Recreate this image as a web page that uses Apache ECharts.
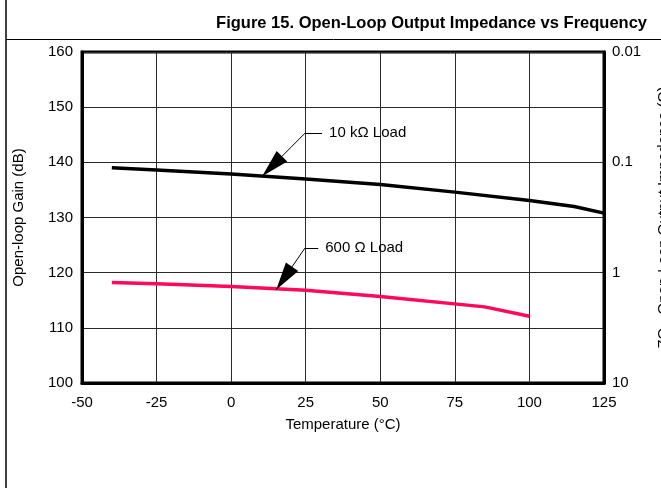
<!DOCTYPE html>
<html>
<head>
<meta charset="utf-8">
<script src="https://cdn.jsdelivr.net/npm/echarts@6/dist/echarts.min.js"></script>
<style>
  html, body { margin: 0; padding: 0; background: #fff; }
  #chart { width: 661px; height: 488px; }
</style>
</head>
<body>
<div id="chart"></div>
<script>
// temperature (°C) / open-loop gain (dB)
const load10kTemp = [-40, -25, 0, 25, 50, 75, 100, 115, 125];
const load10kGain = [139.0, 138.6, 137.9, 137.0, 136.0, 134.6, 133.1, 132.0, 130.8];
const load600Temp = [-40, -25, 0, 25, 50, 85, 100];
const load600Gain = [118.2, 118.0, 117.5, 116.8, 115.7, 113.8, 112.1];

const xTicks = [-50, -25, 0, 25, 50, 75, 100, 125];
const yTicks = [100, 110, 120, 130, 140, 150, 160];
const rightTicks = [0.01, 0.1, 1, 10];

// callout leaders (data coords): elbow, end of short horizontal, arrow tip
const call10k = { elbow: [24.8, 145.3], text: [30.5, 145.3], tip: [10.4, 137.5], label: '10 kΩ Load' };
const call600 = { elbow: [24.8, 124.5], text: [29.2, 124.5], tip: [15.1, 116.9], label: '600 Ω Load' };

const font = '"Liberation Sans", Arial, Helvetica, sans-serif';

function pairs(xs, ys) {
  return xs.map(function (x, i) { return [x, ys[i]]; });
}

function callout(c) {
  return {
    silent: true,
    animation: false,
    data: [
      [
        { coord: c.elbow, symbol: 'none' },
        {
          coord: c.text, symbol: 'none',
          label: { show: true, position: 'end', formatter: c.label, distance: 7, color: '#000', fontSize: 15, fontFamily: font }
        }
      ],
      [
        { coord: c.elbow, symbol: 'none' },
        { coord: c.tip, symbol: 'triangle', symbolSize: [15, 28], symbolOffset: [0, 14] }
      ]
    ],
    lineStyle: { color: '#000', width: 1, type: 'solid' },
    itemStyle: { color: '#000' },
    label: { show: false },
    emphasis: { disabled: true }
  };
}

const chart = echarts.init(document.getElementById('chart'), null, { renderer: 'canvas' });

chart.setOption({
  animation: false,
  backgroundColor: '#fff',
  textStyle: { fontFamily: font, color: '#000' },
  title: {
    text: 'Figure 15. Open-Loop Output Impedance vs Frequency',
    right: 9,
    top: 10,
    textStyle: { fontSize: 16.5, fontWeight: 'bold', color: '#000', fontFamily: font }
  },
  graphic: [
    { type: 'line', shape: { x1: 6, y1: 0, x2: 6, y2: 488 }, style: { stroke: '#000', lineWidth: 1.5 } },
    { type: 'line', shape: { x1: 6, y1: 39.5, x2: 661, y2: 39.5 }, style: { stroke: '#000', lineWidth: 1 } }
  ],
  grid: {
    left: 82, right: 57, top: 52, bottom: 105,
    outerBoundsMode: 'none',
    containLabel: false,
    show: true, borderColor: '#000', borderWidth: 3, backgroundColor: 'transparent'
  },
  xAxis: {
    type: 'value',
    min: xTicks[0], max: xTicks[xTicks.length - 1], interval: 25,
    name: 'Temperature (°C)',
    nameLocation: 'middle', nameGap: 34,
    nameTextStyle: { fontSize: 15, color: '#000', fontFamily: font },
    axisLine: { show: true, onZero: false, lineStyle: { color: '#000', width: 3 } },
    axisTick: { show: false },
    axisLabel: { fontSize: 15, color: '#000', margin: 12, fontFamily: font },
    splitLine: { show: true, lineStyle: { color: '#2a2a2a', width: 1 } }
  },
  yAxis: [
    {
      type: 'value',
      min: yTicks[0], max: yTicks[yTicks.length - 1], interval: 10,
      name: 'Open-loop Gain (dB)',
      nameLocation: 'middle', nameGap: 56,
      nameTextStyle: { fontSize: 15, color: '#000', fontFamily: font },
      axisLine: { show: true, onZero: false, lineStyle: { color: '#000', width: 3 } },
      axisTick: { show: false },
      axisLabel: { fontSize: 15, color: '#000', margin: 9, fontFamily: font },
      splitLine: { show: true, lineStyle: { color: '#2a2a2a', width: 1 } }
    },
    {
      type: 'log', logBase: 10,
      min: rightTicks[0], max: rightTicks[rightTicks.length - 1],
      inverse: true,
      position: 'right',
      name: 'ZO - Open-Loop Output Impedance (Ω)',
      nameLocation: 'middle', nameGap: 52, nameRotate: 90,
      nameTextStyle: { fontSize: 15, color: '#000', fontFamily: font, verticalAlign: 'top' },
      axisLine: { show: true, onZero: false, lineStyle: { color: '#000', width: 3 } },
      axisTick: { show: false },
      axisLabel: {
        fontSize: 15, color: '#000', margin: 8, fontFamily: font,
        formatter: function (v) { return rightTicks.indexOf(+v.toPrecision(3)) >= 0 ? String(+v.toPrecision(3)) : ''; }
      },
      splitLine: { show: false }
    }
  ],
  series: [
    {
      name: '10 kΩ Load',
      type: 'line',
      data: pairs(load10kTemp, load10kGain),
      showSymbol: false,
      lineStyle: { color: '#000', width: 3.5 },
      itemStyle: { color: '#000' },
      markLine: callout(call10k),
      z: 3
    },
    {
      name: '600 Ω Load',
      type: 'line',
      data: pairs(load600Temp, load600Gain),
      showSymbol: false,
      lineStyle: { color: '#ff0a5a', width: 3.5 },
      itemStyle: { color: '#ff0a5a' },
      markLine: callout(call600),
      z: 3
    }
  ]
});
</script>
</body>
</html>
